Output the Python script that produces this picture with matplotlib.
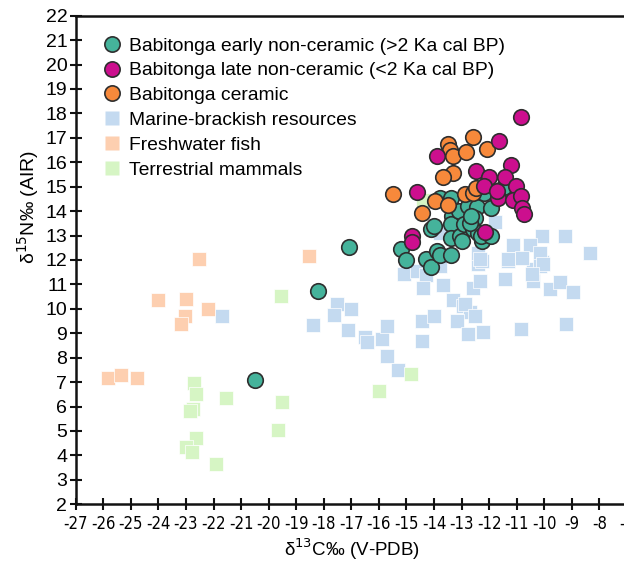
import matplotlib
matplotlib.use("Agg")
import matplotlib.pyplot as plt
from matplotlib.lines import Line2D
from matplotlib import font_manager
from matplotlib.font_manager import FontProperties

# Babitonga early non-ceramic (>2 Ka cal BP)
early_x = [-20.5, -18.2, -17.1, -15.2, -15.0, -14.1, -14.0, -14.3, -14.1, -13.9,
           -13.8, -13.4, -13.8, -13.4, -13.35, -13.4, -13.1, -13.4, -13.05, -13.0,
           -12.9, -12.75, -12.45, -12.5, -12.6, -12.4, -12.25, -11.95, -12.2, -11.45,
           -12.3, -11.95, -12.7, -12.65]
early_y = [7.09, 10.71, 12.53, 12.44, 12.0, 13.25, 13.4, 12.06, 11.71, 12.37,
           12.2, 12.22, 14.55, 14.55, 13.8, 13.46, 14.0, 12.91, 12.98, 12.78,
           13.46, 14.2, 14.15, 13.73, 13.25, 13.12, 12.78, 14.14, 14.75, 15.0,
           12.98, 12.98, 13.5, 13.8]

# Babitonga late non-ceramic (<2 Ka cal BP)
late_x = [-10.85, -11.63, -13.91, -11.22, -12.46, -12.0, -11.43, -14.61, -11.01, -11.67,
          -11.15, -10.86, -10.82, -10.72, -12.15, -14.79, -14.79, -12.19, -11.73]
late_y = [17.84, 16.86, 16.27, 15.9, 15.66, 15.4, 15.4, 14.78, 15.02, 14.55,
          14.44, 14.61, 14.14, 13.87, 13.14, 12.98, 12.73, 15.02, 14.82]

# Babitonga ceramic
ceramic_x = [-12.6, -13.49, -13.42, -13.33, -12.84, -12.09, -13.3, -13.66, -15.5, -13.97,
             -13.49, -12.88, -12.58, -12.46, -14.45]
ceramic_y = [17.02, 16.75, 16.49, 16.27, 16.42, 16.55, 15.57, 15.39, 14.68, 14.41,
             14.23, 14.68, 14.75, 14.96, 13.94]

# Marine-brackish resources
marine_x = [-21.68, -18.38, -17.51, -17.03, -17.63, -17.11, -16.5, -16.45, -15.9, -15.7,
            -15.7, -15.3, -15.09, -14.63, -14.3, -14.39, -13.69, -12.58, -14.43, -14.0,
            -14.43, -13.3, -12.94, -12.7, -13.16, -12.76, -12.4, -12.33, -11.32, -10.1,
            -11.43, -10.41, -10.41, -9.79, -9.43, -8.95, -12.88, -12.52, -12.24, -10.85,
            -9.22, -11.79, -10.1, -9.25, -11.13, -10.52, -11.31, -10.8, -10.16, -10.16,
            -8.34, -10.06, -10.46, -12.27, -13.79, -13.79, -12.4, -12.33]
marine_y = [9.71, 9.33, 10.19, 9.99, 9.74, 9.12, 8.83, 8.63, 8.76, 9.31,
            8.06, 7.5, 11.42, 11.55, 11.38, 10.87, 10.97, 10.87, 9.51, 9.71,
            8.67, 10.37, 10.12, 9.85, 9.51, 8.97, 11.82, 11.14, 11.96, 11.9,
            11.21, 11.62, 11.14, 10.83, 11.1, 10.67, 10.19, 9.71, 9.06, 9.17,
            9.38, 13.55, 12.98, 12.98, 12.6, 12.6, 12.03, 12.1, 12.3, 11.76,
            12.3, 11.83, 11.42, 11.96, 13.12, 11.76, 12.3, 12.03]

# Freshwater fish
fish_x = [-25.84, -25.36, -24.77, -24.0, -23.0, -23.03, -23.18, -22.53, -22.21, -18.53]
fish_y = [7.16, 7.29, 7.17, 10.37, 10.4, 9.69, 9.38, 12.06, 9.99, 12.16]

# Terrestrial mammals
mammal_x = [-22.7, -22.65, -22.73, -22.85, -22.64, -23.0, -22.77, -21.9, -21.55, -19.55,
            -19.53, -19.65, -16.0, -14.84, -14.4]
mammal_y = [6.95, 6.5, 5.9, 5.8, 4.72, 4.35, 4.15, 3.66, 6.36, 10.53,
            6.18, 5.02, 6.65, 7.33, 14.45]

labels = [
    "Babitonga early non-ceramic (>2 Ka cal BP)",
    "Babitonga late non-ceramic (<2 Ka cal BP)",
    "Babitonga ceramic",
    "Marine-brackish resources",
    "Freshwater fish",
    "Terrestrial mammals",
]
x_ticks = list(range(-27, -6))
y_ticks = list(range(2, 23))

c_early = "#45b39b"
c_late = "#cc0f8e"
c_ceramic = "#f7893b"
c_marine = "#c4daf0"
c_fish = "#fdcfb0"
c_mammal = "#d6f5c4"
edge = "#2e2e2e"

plt.rcParams["font.family"] = ["Liberation Sans", "DejaVu Sans"]


def find_narrow_font():
    # any regular, upright sans face that is narrow or condensed
    best = None
    for f in font_manager.fontManager.ttflist:
        name = f.name
        narrowish = ("Narrow" in name or "Condensed" in name
                     or f.stretch in ("condensed", "semi-condensed", 300, 400)
                     or "Condensed" in f.fname or "Narrow" in f.fname)
        if not narrowish:
            continue
        if "Mono" in name or "Serif" in name or "CJK" in name:
            continue
        if f.style != "normal" or f.weight not in (400, "normal", "regular"):
            continue
        fn = f.fname.lower()
        if any(w in fn for w in ["bold", "italic", "light", "extra", "black", "thin", "medium"]):
            continue
        if best is None or ("Semi" in best.fname and "Semi" not in f.fname):
            best = f
    return best


narrow = find_narrow_font()
if narrow is not None:
    xtick_font = FontProperties(fname=narrow.fname, size=12)
else:
    xtick_font = FontProperties(family=["Liberation Sans", "DejaVu Sans"], size=10.5)

fig = plt.figure(figsize=(6.24, 5.61), dpi=100)
ax = fig.add_axes([0.1213, 0.1011, 0.8835, 0.871])

sq = 95
circ = 125
ax.scatter(marine_x, marine_y, s=sq, marker="s", color=c_marine, edgecolors="white", linewidths=0.5, zorder=2)
ax.scatter(fish_x, fish_y, s=sq, marker="s", color=c_fish, edgecolors="white", linewidths=0.5, zorder=2)
ax.scatter(mammal_x, mammal_y, s=sq, marker="s", color=c_mammal, edgecolors="white", linewidths=0.5, zorder=2)
ax.scatter(early_x, early_y, s=circ, marker="o", color=c_early, edgecolors=edge, linewidths=1.2, zorder=3)
ax.scatter(ceramic_x, ceramic_y, s=circ, marker="o", color=c_ceramic, edgecolors=edge, linewidths=1.2, zorder=4)
ax.scatter(late_x, late_y, s=circ, marker="o", color=c_late, edgecolors=edge, linewidths=1.2, zorder=5)

ax.set_xlim(-27, -7)
ax.set_ylim(2, 22)
ax.set_xticks(x_ticks)
ax.set_yticks(y_ticks)
ax.set_xticklabels([str(v) for v in x_ticks], fontproperties=xtick_font)
ax.set_yticklabels([str(v) for v in y_ticks], fontsize=14)
ax.tick_params(direction="inout", length=8, width=1.5, color="#111111", pad=2)
ax.tick_params(axis="x", pad=4)
for side in ["left", "bottom", "top"]:
    ax.spines[side].set_linewidth(1.8)
    ax.spines[side].set_color("#111111")
ax.spines["right"].set_visible(False)

handles = [
    Line2D([], [], ls="", marker="o", ms=11, mfc=c_early, mec=edge, mew=1.2),
    Line2D([], [], ls="", marker="o", ms=11, mfc=c_late, mec=edge, mew=1.2),
    Line2D([], [], ls="", marker="o", ms=11, mfc=c_ceramic, mec=edge, mew=1.2),
    Line2D([], [], ls="", marker="s", ms=10, mfc=c_marine, mec="none"),
    Line2D([], [], ls="", marker="s", ms=10, mfc=c_fish, mec="none"),
    Line2D([], [], ls="", marker="s", ms=10, mfc=c_mammal, mec="none"),
]
ax.legend(handles, labels, loc="upper left", bbox_to_anchor=(0.1646, 0.934),
          bbox_transform=fig.transFigure, frameon=False, fontsize=13.9,
          handlelength=1.0, handletextpad=0.35, labelspacing=0.38,
          borderpad=0, borderaxespad=0)

fig.text(28 / 624, 1 - 207 / 561, "δ$^{15}$N‰ (AIR)", rotation=90, ha="center", va="center", fontsize=14)
fig.text(352 / 624, 1 - 549 / 561, "δ$^{13}$C‰ (V-PDB)", ha="center", va="center", fontsize=13.5)

fig.savefig("out.png", dpi=100)
